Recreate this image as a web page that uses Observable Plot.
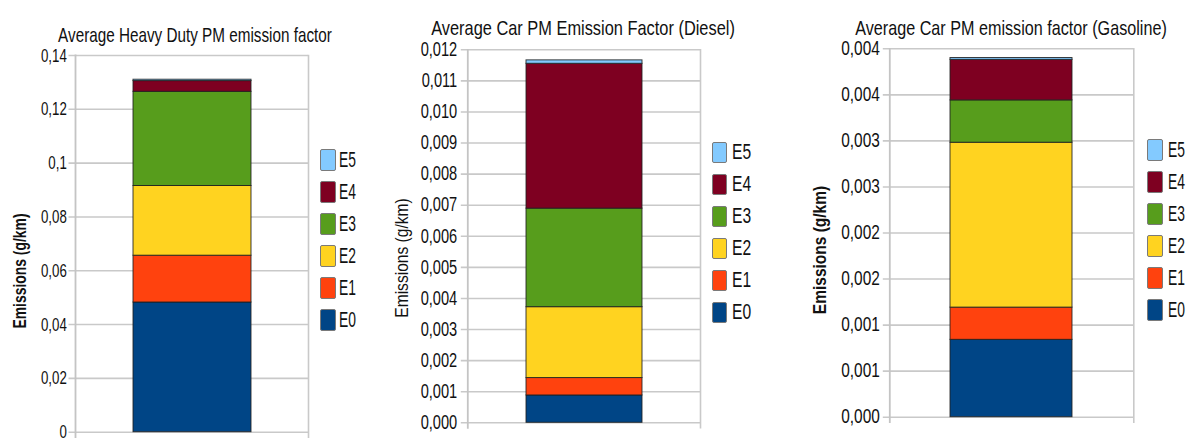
<!DOCTYPE html>
<html>
<head>
<meta charset="utf-8">
<script src="https://cdn.jsdelivr.net/npm/d3@7"></script>
<script src="https://cdn.jsdelivr.net/npm/@observablehq/plot@0.6"></script>
<style>
  html, body { margin: 0; padding: 0; background: #fff; }
  #root { position: relative; width: 1191px; height: 440px; overflow: hidden;
          font-family: "Liberation Sans", Arial, sans-serif; color: #111; }
  .panel { position: absolute; top: 0; }
  .panel svg { overflow: visible; }
  .title { position: absolute; white-space: nowrap; line-height: 1; }
  .ylabel { position: absolute; white-space: nowrap; line-height: 1; }
  .sw { position: absolute; box-sizing: border-box; border: 1.5px solid #7a7a7a; border-radius: 2px; }
  .lt { position: absolute; white-space: nowrap; line-height: 1; transform-origin: 0 50%; }
</style>
</head>
<body>
<div id="root"></div>
<script>
// ---- data ----
const stages = ["E0", "E1", "E2", "E3", "E4", "E5"];
const stageColors = ["#004586", "#ff420e", "#ffd320", "#579d1c", "#7e0021", "#83caff"];

const categories = ["Heavy Duty", "Car Diesel", "Car Gasoline"];
const titles = [
  "Average Heavy Duty PM emission factor",
  "Average Car PM Emission Factor (Diesel)",
  "Average Car PM emission factor (Gasoline)"
];
const yLabel = "Emissions (g/km)";

const heavyDutyValues = [0.0482, 0.0174, 0.0259, 0.0350, 0.0040, 0.0005];
const carDieselValues = [0.00088, 0.00056, 0.00228, 0.00317, 0.00466, 0.00011];
const carGasolineValues = [0.00084, 0.00035, 0.00179, 0.00046, 0.00044, 0.00002];

const heavyDutyTicks = [0, 0.02, 0.04, 0.06, 0.08, 0.1, 0.12, 0.14];
const heavyDutyTickLabels = ["0", "0,02", "0,04", "0,06", "0,08", "0,1", "0,12", "0,14"];
const carDieselTicks = [0, 0.001, 0.002, 0.003, 0.004, 0.005, 0.006, 0.007, 0.008, 0.009, 0.010, 0.011, 0.012];
const carDieselTickLabels = ["0,000", "0,001", "0,002", "0,003", "0,004", "0,005", "0,006", "0,007", "0,008", "0,009", "0,010", "0,011", "0,012"];
const carGasolineTicks = [0, 0.0005, 0.001, 0.0015, 0.002, 0.0025, 0.003, 0.0035, 0.004];
const carGasolineTickLabels = ["0,000", "0,001", "0,001", "0,002", "0,002", "0,003", "0,003", "0,004", "0,004"];

// ---- layout (condensed glyphs: font size + horizontal squeeze) ----
const panels = [
  { cat: categories[0], title: titles[0], values: heavyDutyValues, ticks: heavyDutyTicks, labels: heavyDutyTickLabels,
    left: 0, width: 390, mL: 75, mR: 82, mT: 55, mB: 8.3, pad: 0.328,
    tickPad: 8.7, tickFont: 19, tickSq: 0.7,
    titleX: 195, titleY: 23.9, titleFont: 21, titleSq: 0.727,
    labelBold: true, labelX: 19.7, labelY: 270.5, labelFont: 18.3, labelSq: 0.76,
    legX: 320, legTop: 149.3, legW: 16, legH: 21.5, legText: 338.5, legFont: 22, legSq: 0.63 },
  { cat: categories[1], title: titles[1], values: carDieselValues, ticks: carDieselTicks, labels: carDieselTickLabels,
    left: 390, width: 400, mL: 77.3, mR: 90, mT: 49.3, mB: 17.7, pad: 0.335,
    tickPad: 10.6, tickFont: 19.5, tickSq: 0.75,
    titleX: 582.5, titleY: 17.2, titleFont: 21, titleSq: 0.78,
    labelBold: false, labelX: 400.8, labelY: 257.5, labelFont: 19, labelSq: 0.82,
    legX: 712.3, legTop: 141.5, legW: 15, legH: 21.5, legText: 731.5, legFont: 22, legSq: 0.71 },
  { cat: categories[2], title: titles[2], values: carGasolineValues, ticks: carGasolineTicks, labels: carGasolineTickLabels,
    left: 790, width: 401, mL: 99.3, mR: 57.7, mT: 48.3, mB: 23.3, pad: 0.331,
    tickPad: 10, tickFont: 19.5, tickSq: 0.79,
    titleX: 1011, titleY: 17.2, titleFont: 21, titleSq: 0.77,
    labelBold: true, labelX: 820, labelY: 250, labelFont: 18.9, labelSq: 0.82,
    legX: 1146.7, legTop: 138.5, legW: 16.5, legH: 22.5, legText: 1167.5, legFont: 22, legSq: 0.63 }
];

const root = document.getElementById("root");

for (const p of panels) {
  const rows = stages.map((s, i) => ({ cat: p.cat, stage: s, value: p.values[i] }));
  const fmt = d => p.labels[p.ticks.indexOf(d)];
  const chart = Plot.plot({
    width: p.width,
    height: 440,
    marginLeft: p.mL, marginRight: p.mR, marginTop: p.mT, marginBottom: p.mB,
    style: { fontFamily: '"Liberation Sans", Arial, sans-serif', background: "transparent" },
    x: { domain: [p.cat], padding: p.pad, axis: null },
    y: { domain: [0, p.ticks[p.ticks.length - 1]], axis: null },
    color: { domain: stages, range: stageColors },
    marks: [
      Plot.ruleY(p.ticks, { stroke: "#c9c9c9", strokeWidth: 1.6, insetLeft: -6.5 }),
      Plot.frame({ anchor: "left", stroke: "#c4c4c4", strokeWidth: 1.8, insetBottom: -5 }),
      Plot.frame({ anchor: "right", stroke: "#c9c9c9", strokeWidth: 1.6, insetBottom: -5 }),
      Plot.barY(rows, { x: "cat", y: "value", fill: "stage", stroke: "#1e1e1e", strokeWidth: 1, strokeOpacity: 0.85 }),
      Plot.axisY(p.ticks, { tickSize: 0, tickPadding: p.tickPad, tickFormat: fmt, fontSize: p.tickFont, fill: "#111", label: null })
    ]
  });
  // condense tick label glyphs horizontally (right edge stays anchored)
  chart.querySelectorAll('g[aria-label="y-axis tick label"] text').forEach(el => {
    const tr = el.getAttribute("transform") || "";
    el.setAttribute("transform", tr + ` scale(${p.tickSq},1)`);
  });
  const wrap = document.createElement("div");
  wrap.className = "panel";
  wrap.style.left = p.left + "px";
  wrap.appendChild(chart);
  root.appendChild(wrap);

  const t = document.createElement("div");
  t.className = "title";
  t.textContent = p.title;
  t.style.left = p.titleX + "px";
  t.style.top = p.titleY + "px";
  t.style.fontSize = p.titleFont + "px";
  t.style.transform = `translateX(-50%) scaleX(${p.titleSq})`;
  root.appendChild(t);

  const yl = document.createElement("div");
  yl.className = "ylabel";
  yl.textContent = yLabel;
  yl.style.left = p.labelX + "px";
  yl.style.top = p.labelY + "px";
  yl.style.fontSize = p.labelFont + "px";
  yl.style.fontWeight = p.labelBold ? "bold" : "normal";
  yl.style.transform = `translate(-50%, -50%) rotate(-90deg) scaleX(${p.labelSq})`;
  root.appendChild(yl);

  // legend: E5 at top down to E0
  const order = stages.slice().reverse();
  order.forEach((s, k) => {
    const top = p.legTop + k * 32;
    const sw = document.createElement("div");
    sw.className = "sw";
    sw.style.left = p.legX + "px";
    sw.style.top = top + "px";
    sw.style.width = p.legW + "px";
    sw.style.height = p.legH + "px";
    sw.style.background = stageColors[stages.indexOf(s)];
    root.appendChild(sw);
    const lt = document.createElement("div");
    lt.className = "lt";
    lt.textContent = s;
    lt.style.left = p.legText + "px";
    lt.style.top = (top + p.legH / 2) + "px";
    lt.style.fontSize = p.legFont + "px";
    lt.style.transform = `translateY(-50%) scaleX(${p.legSq})`;
    root.appendChild(lt);
  });
}
</script>
</body>
</html>
